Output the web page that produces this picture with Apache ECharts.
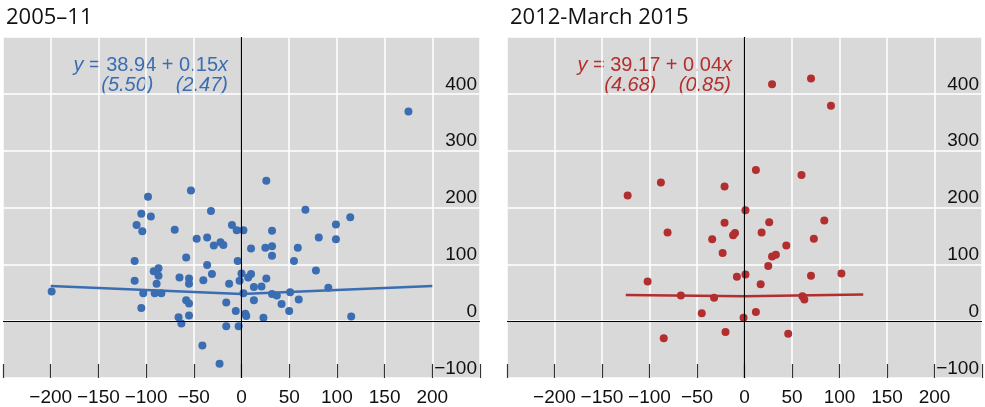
<!DOCTYPE html>
<html>
<head>
<meta charset="utf-8">
<script src="https://cdn.jsdelivr.net/npm/echarts@6/dist/echarts.min.js"></script>
<style>
  html, body { margin: 0; padding: 0; background: #fff; }
  #main { width: 985px; height: 407px; }
</style>
</head>
<body>
<div id="main"></div>
<script>
// 2005-11 panel, points
var earlyX = [-98, -53, -32, 175, 26, 67, -105, -95, -110, -104, -70, -47, -36, -29, -22, -19, -10, -5, 2, 10,
  -112, -58, -36, -31, -4, -92, -87, -87, -112, -89, -65, -55, -55, -40, -13, 0, -2, 7, -199, -103,
  -91, -84, 2, -105, -58, -55, -16, -6, 4, 5, -66, -55, -63, -16, -3, -41, -23, 114, 99, 32,
  81, 99, 25, 32, 59, 32, 55, 78, 10, 26, 13, 21, 91, 51, 32, 37, 13, 60, 42, 50, 23, 115];
var earlyY = [219, 230, 194, 369, 247, 196, 189, 184, 169, 158, 161, 145, 147, 133, 139, 134, 169, 160, 160, 128,
  106, 112, 99, 83, 106, 88, 93, 80, 71, 66, 77, 75, 66, 72, 66, 84, 71, 77, 52, 49,
  49, 49, 49, 23, 37, 31, 33, 18, 13, 9, 7, 10, -4, -9, -9, -43, -75, 183, 170, 159,
  147, 144, 129, 132, 129, 115, 106, 89, 83, 75, 60, 61, 59, 51, 48, 45, 37, 38, 30, 18, 6, 8];

// 2012-March 2015 panel
var lateX = [-123, -88, -21, 29, 70, 91, 12, 60, 1, -21, -81, -34, -10, -12, -23, -102, -8, 1, -67, -32,
  -45, -1, -20, -85, 26, 84, 18, 73, 44, 29, 33, 25, 70, 102, 17, 61, 63, 12, 46];
var lateY = [221, 244, 237, 417, 427, 379, 266, 257, 195, 173, 156, 144, 155, 151, 120, 70, 78, 82, 45, 41,
  14, 6, -19, -30, 174, 177, 156, 145, 133, 114, 117, 97, 80, 84, 65, 44, 38, 16, -22];

// fitted lines as drawn
var earlyFitX = [-200, 0, 200];
var earlyFitY = [62, 48, 62];
var lateFitX = [-125, 0, 125];
var lateFitY = [46, 44, 47];

var xTicks = [-200, -150, -100, -50, 0, 50, 100, 150, 200];
var yTicks = [-100, 0, 100, 200, 300, 400];

var blue = '#3a6db1';
var red = '#b32e2e';

function pairs(xs, ys) {
  return xs.map(function (x, i) { return [x, ys[i]]; });
}
function fmt(v) {
  return v < 0 ? '\u2212' + Math.abs(v) : String(v);
}

var myChart = echarts.init(document.getElementById('main'));

function xAxisFor(idx) {
  return {
    gridIndex: idx, type: 'value', min: -250, max: 250, interval: 50,
    axisLine: { show: true, onZero: false, lineStyle: { color: 'rgba(0,0,0,0)' } },
    axisTick: { show: true, inside: true, length: 14, lineStyle: { color: '#333', width: 1.2 } },
    axisLabel: {
      margin: 10, color: '#111', fontSize: 19, fontFamily: 'Liberation Sans',
      formatter: function (v) { return xTicks.indexOf(v) >= 0 ? fmt(v) : ''; }
    },
    splitLine: { show: true, lineStyle: { color: '#fff', width: 1.5 } }
  };
}
function yAxisFor(idx) {
  return {
    gridIndex: idx, type: 'value', min: -100, max: 500, interval: 100, position: 'right',
    axisLine: { show: false }, axisTick: { show: false },
    axisLabel: {
      inside: true, margin: 3, verticalAlign: 'bottom', color: '#111', fontSize: 19,
      fontFamily: 'Liberation Sans',
      formatter: function (v) { return yTicks.indexOf(v) >= 0 ? fmt(v) : ''; }
    },
    splitLine: { show: true, lineStyle: { color: '#fff', width: 1.5 } }
  };
}
function zeroLines() {
  return {
    silent: true, symbol: 'none', label: { show: false },
    lineStyle: { color: '#000', width: 1.2, type: 'solid' },
    data: [{ xAxis: 0 }, { yAxis: 0 }]
  };
}

var option = {
  animation: false,
  title: [
    { text: '2005\u201311', left: 1, top: 2, textStyle: { fontFamily: 'Open Sans', fontSize: 22, fontWeight: 'normal', color: '#111' } },
    { text: '2012-March 2015', left: 505, top: 2, textStyle: { fontFamily: 'Open Sans', fontSize: 22, fontWeight: 'normal', color: '#111' } }
  ],
  grid: [
    { left: 3, top: 37, width: 477, height: 341, show: true, backgroundColor: '#d9d9d9', borderWidth: 0 },
    { left: 507, top: 37, width: 478, height: 341, show: true, backgroundColor: '#d9d9d9', borderWidth: 0 }
  ],
  xAxis: [xAxisFor(0), xAxisFor(1)],
  yAxis: [yAxisFor(0), yAxisFor(1)],
  graphic: [
    { type: 'text', x: 228, y: 65, style: { text: '{i|y} = 38.94 + 0.15{i|x}', align: 'right', verticalAlign: 'middle', fill: blue, font: '20px Liberation Sans',
      rich: { i: { fontStyle: 'italic', fontSize: 20, fontFamily: 'Liberation Sans', fill: blue } } } },
    { type: 'text', x: 228, y: 85, style: { text: '(5.50)    (2.47)', align: 'right', verticalAlign: 'middle', fill: blue, font: 'italic 20px Liberation Sans' } },
    { type: 'text', x: 732, y: 65, style: { text: '{i|y} = 39.17 + 0.04{i|x}', align: 'right', verticalAlign: 'middle', fill: red, font: '20px Liberation Sans',
      rich: { i: { fontStyle: 'italic', fontSize: 20, fontFamily: 'Liberation Sans', fill: red } } } },
    { type: 'text', x: 731, y: 85, style: { text: '(4.68)    (0.85)', align: 'right', verticalAlign: 'middle', fill: red, font: 'italic 20px Liberation Sans' } }
  ],
  series: [
    {
      type: 'scatter', xAxisIndex: 0, yAxisIndex: 0, symbolSize: 8,
      itemStyle: { color: blue, opacity: 1 }, data: pairs(earlyX, earlyY), markLine: zeroLines(), z: 3
    },
    {
      type: 'line', xAxisIndex: 0, yAxisIndex: 0, showSymbol: false, symbol: 'none',
      lineStyle: { color: blue, width: 2.5 }, data: pairs(earlyFitX, earlyFitY), z: 4
    },
    {
      type: 'scatter', xAxisIndex: 1, yAxisIndex: 1, symbolSize: 8,
      itemStyle: { color: red, opacity: 1 }, data: pairs(lateX, lateY), markLine: zeroLines(), z: 3
    },
    {
      type: 'line', xAxisIndex: 1, yAxisIndex: 1, showSymbol: false, symbol: 'none',
      lineStyle: { color: red, width: 2.5 }, data: pairs(lateFitX, lateFitY), z: 4
    }
  ]
};

myChart.setOption(option);
</script>
</body>
</html>
